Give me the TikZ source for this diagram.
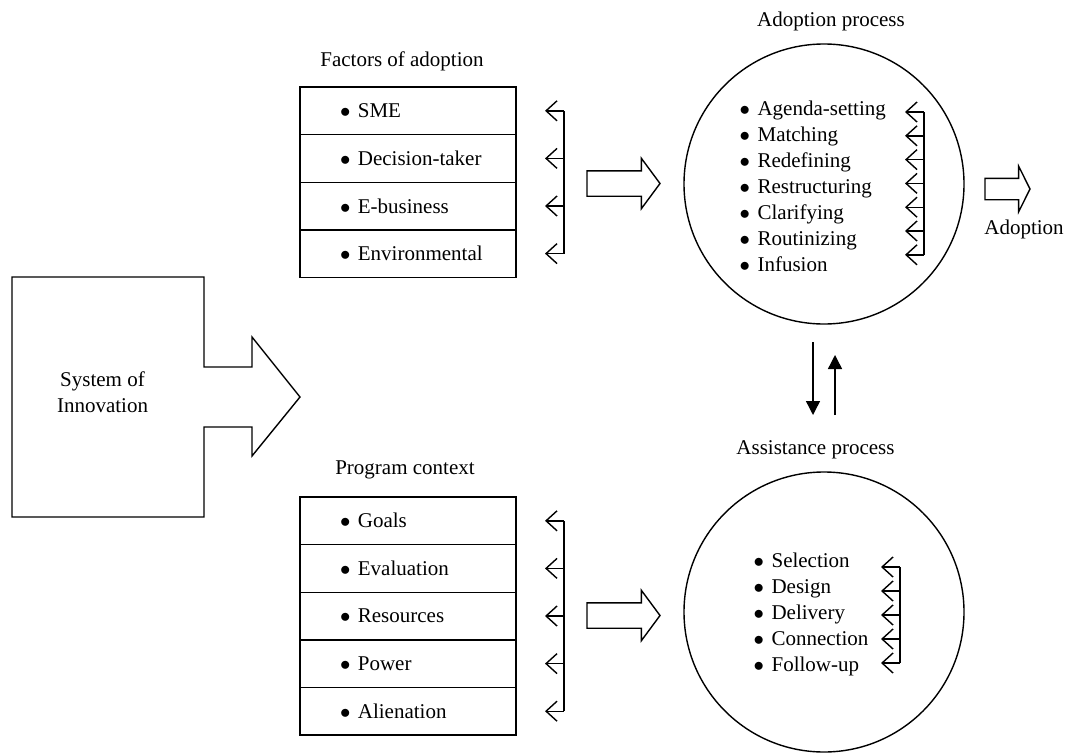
\documentclass[tikz,border=0pt]{standalone}
\usepackage{fontspec}
\setmainfont{Liberation Serif}
\usetikzlibrary{arrows.meta, positioning, shapes.arrows, calc}
\newcommand{\itm}{$\bullet$\hskip 7.5pt}

\begin{document}
\begin{tikzpicture}[x=1pt, y=-1pt, line width=1.4pt, line join=miter,
    every node/.style={font=\fontsize{21}{26}\selectfont, inner sep=0pt},
    rowbox/.style={draw, outer sep=0pt, minimum width=216pt, minimum height=47.6pt,
                   text width=176pt, inner xsep=20pt, align=left},
    proc/.style={draw, circle, minimum size=280pt},
    blockarrow/.style={draw, single arrow, inner xsep=0pt, inner ysep=12pt, outer sep=0pt,
                       single arrow head extend=12.5pt, single arrow tip angle=107,
                       minimum height=73pt, anchor=tip},
    fb/.style={-{Straight Barb[length=11pt, width=20pt]}},
    updown/.style={-{Triangle[length=14pt, width=14pt]}}]
    \useasboundingbox (0,0) rectangle (1067,752);
    % System of innovation
    \draw (12,277) -- (204,277) -- (204,367) -- (252,367) -- (252,337)
          -- (300,397) -- (252,456) -- (252,427) -- (204,427) -- (204,517)
          -- (12,517) -- cycle;
    \node[align=center] (soi) at (102.5,392.5) {System of\\Innovation};
    % Factors of adoption
    \node (ftitle) at (402,61) {Factors of adoption};
    \node[rowbox] (f1) at (408,110.8) {\hspace*{20pt}\itm SME};
    \node[rowbox, below=0pt of f1] (f2) {\hspace*{20pt}\itm Decision-taker};
    \node[rowbox, below=0pt of f2] (f3) {\hspace*{20pt}\itm E-business};
    \node[rowbox, below=0pt of f3] (f4) {\hspace*{20pt}\itm Environmental};
    \foreach \r in {1,...,4}
      \draw[fb] ($(f\r.east)+(48,0)$) -- ($(f\r.east)+(29,0)$);
    \draw ($(f1.east)+(48,0)$) -- ($(f4.east)+(48,0)$);
    % Program context
    \node (ptitle) at (405,469.5) {Program context};
    \node[rowbox] (p1) at (408,520.8) {\hspace*{20pt}\itm Goals};
    \node[rowbox, below=0pt of p1] (p2) {\hspace*{20pt}\itm Evaluation};
    \node[rowbox, below=0pt of p2] (p3) {\hspace*{20pt}\itm Resources};
    \node[rowbox, below=0pt of p3] (p4) {\hspace*{20pt}\itm Power};
    \node[rowbox, below=0pt of p4] (p5) {\hspace*{20pt}\itm Alienation};
    \foreach \r in {1,...,5}
      \draw[fb] ($(p\r.east)+(48,0)$) -- ($(p\r.east)+(29,0)$);
    \draw ($(p1.east)+(48,0)$) -- ($(p5.east)+(48,0)$);
    % block arrows
    \node[blockarrow] (fa) at (660,183.5) {};
    \node[blockarrow] (pa) at (660,615.5) {};
    % Adoption process
    \node (atitle) at (831,21.5) {Adoption process};
    \node[proc] (adopt) at (824,184) {};
    \node[anchor=west, align=left] (alist) at (739,186)
      {\itm Agenda-setting\\ \itm Matching\\ \itm Redefining\\ \itm Restructuring\\
       \itm Clarifying\\ \itm Routinizing\\ \itm Infusion};
    \coordinate (atop) at (924,112);
    \foreach \i in {0,...,6}
      \draw[fb] ($(atop)+(0,23.8*\i)$) -- ($(atop)+(-19,23.8*\i)$);
    \draw (atop) -- ($(atop)+(0,142.8)$);
    \node[blockarrow, inner ysep=10pt, single arrow head extend=12pt,
          single arrow tip angle=127, minimum height=45pt] (out) at (1030,189) {};
    \node (adoption) at (1024,229.8) {Adoption};
    % Assistance process
    \node (stitle) at (815.5,449.7) {Assistance process};
    \node[proc] (assist) at (824,612) {};
    \node[anchor=west, align=left] (slist) at (753,614)
      {\itm Selection\\ \itm Design\\ \itm Delivery\\ \itm Connection\\ \itm Follow-up};
    \coordinate (stop) at (900,567);
    \foreach \i in {0,...,4}
      \draw[fb] ($(stop)+(0,24*\i)$) -- ($(stop)+(-19,24*\i)$);
    \draw (stop) -- ($(stop)+(0,96)$);
    % between the processes
    \coordinate (d1) at (813,342);
    \coordinate (d2) at (813,415);
    \coordinate (u1) at (835,415);
    \coordinate (u2) at (835,355);
    \draw[updown] (d1) -- (d2);
    \draw[updown] (u1) -- (u2);
\end{tikzpicture}
\end{document}
